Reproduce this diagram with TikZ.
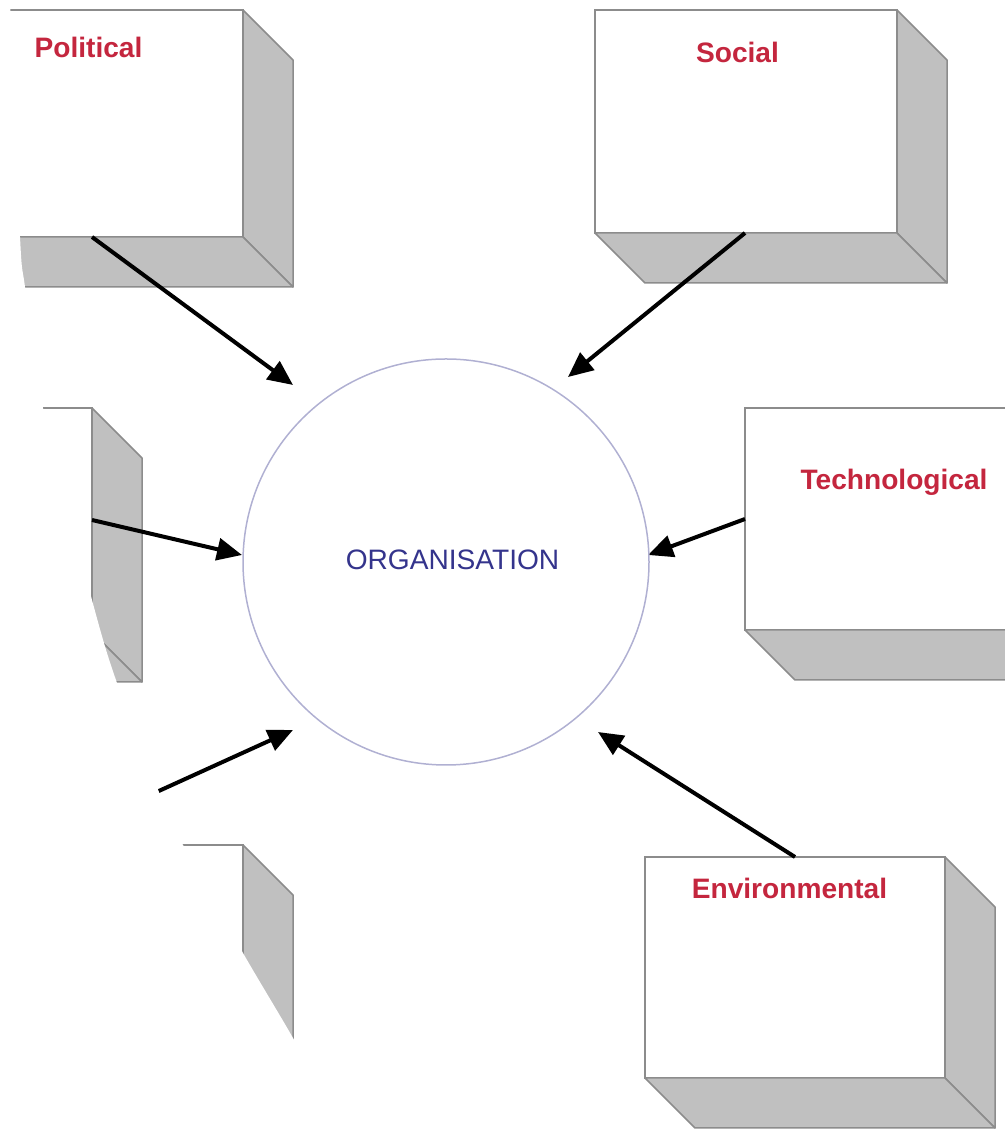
\documentclass[tikz,border=0pt]{standalone}
\usepackage{fontspec}
\setmainfont{Liberation Sans}
\usetikzlibrary{arrows.meta}
\definecolor{facegray}{RGB}{192,192,192}
\definecolor{edgegray}{RGB}{140,140,140}
\definecolor{labelred}{RGB}{196,38,62}
\definecolor{orgblue}{RGB}{52,52,140}
\definecolor{ringblue}{RGB}{176,176,210}
\begin{document}
\begin{tikzpicture}[
    front/.style={fill=white, draw=edgegray, line width=0.030cm},
    side/.style={fill=facegray, draw=edgegray, line width=0.030cm, line join=round},
    factor/.style={text=labelred, font=\bfseries},
    pusharrow/.style={line width=0.080cm, -{Triangle[length=0.50cm,width=0.44cm]}}
  ]
  \useasboundingbox (0,0) rectangle (20.100000,22.640000);
  {\fontsize{16}{19}\selectfont

  % Drawing box Political
  \draw [front] (-1.140000,17.900000) rectangle (4.860000,22.440000);%
  \draw [side] (4.860000,22.440000) -- (5.860000,21.440000) -- (5.860000,16.900000) -- (4.860000,17.900000) -- cycle;%
  \draw [side] (-1.140000,17.900000) -- (4.860000,17.900000) -- (5.860000,16.900000) -- (-0.140000,16.900000) -- cycle;%

  % Drawing box Social
  \draw [front] (11.900000,17.980000) rectangle (17.940000,22.440000);%
  \draw [side] (17.940000,22.440000) -- (18.940000,21.440000) -- (18.940000,16.980000) -- (17.940000,17.980000) -- cycle;%
  \draw [side] (11.900000,17.980000) -- (17.940000,17.980000) -- (18.940000,16.980000) -- (12.900000,16.980000) -- cycle;%

  % Drawing box Economic (mostly cut away)
  \draw [front] (-4.160000,10.000000) rectangle (1.840000,14.480000);%
  \draw [side] (1.840000,14.480000) -- (2.840000,13.480000) -- (2.840000,9.000000) -- (1.840000,10.000000) -- cycle;%
  \draw [side] (-4.160000,10.000000) -- (1.840000,10.000000) -- (2.840000,9.000000) -- (-3.160000,9.000000) -- cycle;%

  % Drawing box Technological
  \draw [front] (14.900000,10.040000) rectangle (20.900000,14.480000);%
  \draw [side] (14.900000,10.040000) -- (20.900000,10.040000) -- (21.900000,9.040000) -- (15.900000,9.040000) -- cycle;%

  % Drawing box Legal (mostly cut away)
  \draw [front] (-1.140000,1.280000) rectangle (4.860000,5.740000);%
  \draw [side] (4.860000,5.740000) -- (5.860000,4.740000) -- (5.860000,0.280000) -- (4.860000,1.280000) -- cycle;%
  \draw [side] (-1.140000,1.280000) -- (4.860000,1.280000) -- (5.860000,0.280000) -- (-0.140000,0.280000) -- cycle;%

  % Drawing box Environmental
  \draw [front] (12.900000,1.080000) rectangle (18.900000,5.500000);%
  \draw [side] (18.900000,5.500000) -- (19.900000,4.500000) -- (19.900000,0.080000) -- (18.900000,1.080000) -- cycle;%
  \draw [side] (12.900000,1.080000) -- (18.900000,1.080000) -- (19.900000,0.080000) -- (13.900000,0.080000) -- cycle;%

  % Marking arrow ends
  \coordinate (polfoot) at (1.840000,17.900000);%
  \coordinate (poltip) at (5.860000,14.940000);%
  \coordinate (socfoot) at (14.900000,17.980000);%
  \coordinate (soctip) at (11.360000,15.100000);%
  \coordinate (ecofoot) at (1.840000,12.240000);%
  \coordinate (ecotip) at (4.840000,11.540000);%
  \coordinate (tecfoot) at (14.900000,12.260000);%
  \coordinate (tectip) at (12.960000,11.540000);%
  \coordinate (legfoot) at (3.000000,6.740000);%
  \coordinate (legtip) at (5.860000,8.040000);%
  \coordinate (envfoot) at (15.900000,5.500000);%
  \coordinate (envtip) at (11.960000,8.000000);%

  % Drawing arrows into the organisation
  \draw [pusharrow] (polfoot) -- (poltip);%
  \draw [pusharrow] (socfoot) -- (soctip);%
  \draw [pusharrow] (ecofoot) -- (ecotip);%
  \draw [pusharrow] (tecfoot) -- (tectip);%
  \draw [pusharrow] (legfoot) -- (legtip);%
  \draw [pusharrow] (envfoot) -- (envtip);%

  % Cutting away the left side
  \fill [white] (0,0) -- (0,22.640000) -- plot [smooth] coordinates {(0.200000,22.640000) (0.400000,17.900000) (0.500000,16.900000) (0.860000,14.480000) (1.840000,10.640000) (2.340000,8.980000) (3.260000,6.600000) (3.660000,5.740000) (4.860000,3.580000) (5.860000,1.880000) (6.900000,0.000000)} -- cycle;%

  % Marking circle ORGANISATION
  \draw [ringblue, line width=0.030cm] (8.920000,11.400000) circle (4.060000);%
  \node [text=orgblue] (org) at (9.050000,11.440000) {ORGANISATION};%

  % Marking factor labels
  \node [factor] (political) at (1.770000,21.700000) {Political};%
  \node [factor] (social) at (14.750000,21.600000) {Social};%
  \node [factor] (technological) at (17.880000,13.000000) {Technological};%
  \node [factor] (environmental) at (15.790000,4.880000) {Environmental};%
  }
\end{tikzpicture}
\end{document}
